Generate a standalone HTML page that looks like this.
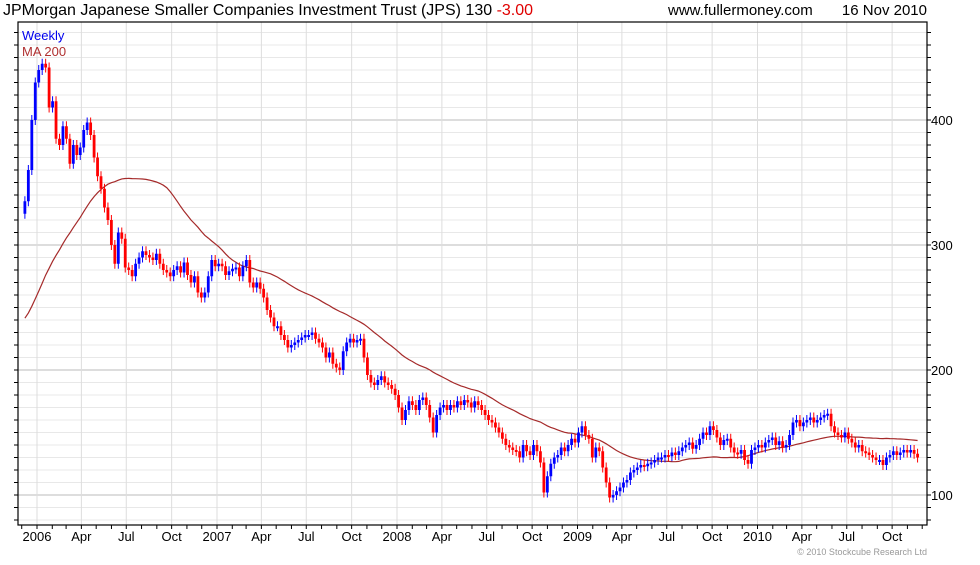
<!DOCTYPE html>
<html><head><meta charset="utf-8"><style>
body{margin:0;background:#fff;font-family:"Liberation Sans",sans-serif}
svg text{font-family:"Liberation Sans",sans-serif}
</style></head><body>
<svg id="c" width="980" height="560" viewBox="0 0 980 560">
<text x="3" y="15" font-size="16" fill="#000">JPMorgan Japanese Smaller Companies Investment Trust (JPS) 130 <tspan fill="#e00000">-3.00</tspan></text>
<text x="668" y="15" font-size="15" fill="#000">www.fullermoney.com</text>
<text x="927" y="15" font-size="15" fill="#000" text-anchor="end">16 Nov 2010</text>
<text x="927" y="555" font-size="9" fill="#999" text-anchor="end">© 2010 Stockcube Research Ltd</text>
<g id="grid"></g><g id="ma"></g><g id="candles"></g><g id="axes"></g>
<text x="22" y="40" font-size="13" fill="#0000ee">Weekly</text>
<text x="22" y="56" font-size="13" fill="#b03030">MA 200</text>
</svg>
<script>
const closes=[335,360,400,430,
440,445,442,410,415, 385,380,395,385, 365,380,372,378, 392,398,388,370, 355,345,330,320,300, 285,310,305,282, 280,275,285,290,295, 292,290,288,293, 285,280,278,275, 280,283,278,286,276, 270,275,262,258, 262,275,288,283,
285,283,276,279,281, 282,275,283,288, 270,266,270,265, 258,248,242,235, 235,228,224,218,220, 222,224,226,228, 228,230,225,222, 218,210,214,205,202, 200,215,222,225, 222,224,225,210, 196,190,188,192,195, 190,188,185,180,
170,160,168,175,172, 168,176,178,172, 162,150,164,170, 172,168,172,170,175, 172,176,174,170, 175,172,168,164, 160,158,154,150, 145,140,138,136,135, 130,140,135,132, 140,135,126,102, 115,125,130,132,138, 135,140,145,142,
150,155,148,145, 130,138,135,122, 110,98,100,103,106, 110,112,118,120, 122,124,123,125, 126,128,130,130,132, 131,134,132,135, 138,140,142,137,140, 145,150,148,155, 152,146,140,144, 145,138,134,133,136, 128,125,136,138,
140,138,142,144, 146,140,143,138,140, 148,158,160,155, 158,160,162,158, 160,162,164,165,155, 150,148,146,150, 145,142,138,140, 135,134,132,130,128, 128,124,130,132, 135,132,134,136, 134,136,133,130];
const priorCloses=[190,188,192,195,190,185,188,192,196,200,198,202,205,210,208,212,215,220,225,228,232,236,240,245,250,255,260,265,270,275,282,288,295,300,305,312,318,325,330];
const firstOpen=325;
const yTicks=[100,200,300,400];
const xLabels=["2006","Apr","Jul","Oct","2007","Apr","Jul","Oct","2008","Apr","Jul","Oct","2009","Apr","Jul","Oct","2010","Apr","Jul","Oct"];
const xLabelDates=["2006-01-01","2006-04-01","2006-07-01","2006-10-01","2007-01-01","2007-04-01","2007-07-01","2007-10-01","2008-01-01","2008-04-01","2008-07-01","2008-10-01","2009-01-01","2009-04-01","2009-07-01","2009-10-01","2010-01-01","2010-04-01","2010-07-01","2010-10-01"];
const ns="http://www.w3.org/2000/svg";
const L=18,R=927,T=22,B=525;
const y=p=>495-(p-100)*1.25;
const t0=Date.UTC(2006,0,1);
const xd=s=>{const d=new Date(s+"T00:00:00Z");return 37+(d-t0)/864e5*180/365;};
const xw=i=>37+(i-3.5)*3.46;
function mk(tag,parent,attrs){const e=document.createElementNS(ns,tag);for(const k in attrs)e.setAttribute(k,attrs[k]);document.getElementById(parent).appendChild(e);return e;}
for(let p=80;p<=470;p+=10){
 const e=mk('line','grid',{x1:L,x2:R,y1:y(p),y2:y(p),stroke:p%100===0?'#bbb':'#e8e8e8','stroke-width':1});
 
 
 const t1=mk('line','axes',{x1:L-4,x2:L,y1:y(p),y2:y(p),stroke:'#000'});
 
 
 const t2=mk('line','axes',{x1:R,x2:R+4,y1:y(p),y2:y(p),stroke:'#000'});
 
 
}
yTicks.forEach(v=>{const t=mk('text','axes',{x:931,y:y(v)+5,'font-size':13,fill:'#000'});t.textContent=v;
 
 });
xLabels.forEach((lab,i)=>{const x=xd(xLabelDates[i]);
 const g=mk('line','grid',{x1:x,x2:x,y1:T,y2:B,stroke:'#ddd'});
 
 
 const t=mk('text','axes',{x:x,y:541,'font-size':13,'text-anchor':'middle',fill:'#000'});t.textContent=lab;
 
 });
for(let yr=2005;yr<=2010;yr++)for(let m=0;m<12;m++){const x=37+(Date.UTC(yr,m,1)-t0)/864e5*180/365;if(x<L||x>R)continue;
 const t=mk('line','axes',{x1:x,x2:x,y1:B,y2:B+4,stroke:'#000'});
 
 }
const fr=mk('rect','axes',{x:L,y:T,width:R-L,height:B-T,fill:'none',stroke:'#000','stroke-width':1.2});


const all=priorCloses.concat(closes);let pts=[];
for(let i=0;i<closes.length;i++){const j=i+priorCloses.length;let s=0,n=0;for(let k=Math.max(0,j-39);k<=j;k++){s+=all[k];n++;}pts.push(xw(i).toFixed(1)+','+y(s/n).toFixed(1));}
const ma=mk('polyline','ma',{points:pts.join(' '),fill:'none',stroke:'#a52a2a','stroke-width':1.2});


closes.forEach((c,i)=>{const o=i?closes[i-1]:firstOpen;const up=c>=o;const col=up?'#0000ff':'#ff0000';const x=xw(i);
 const w=mk('line','candles',{x1:x,x2:x,y1:y(Math.max(o,c)+4),y2:y(Math.min(o,c)-4),stroke:col,'stroke-width':1});
 
 
 const h=Math.max(2,Math.abs(y(o)-y(c)));
 const r=mk('rect','candles',{x:x-1.4,y:Math.min(y(o),y(c)),width:2.8,height:h,fill:col});
 
 });
</script>
</body></html>
